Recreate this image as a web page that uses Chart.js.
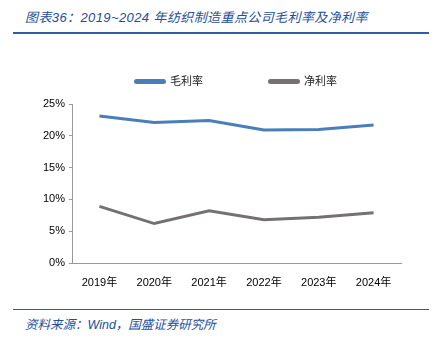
<!DOCTYPE html>
<html>
<head>
<meta charset="utf-8">
<script src="https://cdn.jsdelivr.net/npm/chart.js@4/dist/chart.umd.min.js"></script>
<style>
  body { margin: 0; width: 435px; height: 340px; background: #fff; position: relative; overflow: hidden; }
  #title { position: absolute; left: 25px; top: 7px; font: italic 13px "Liberation Sans", "Noto Sans CJK SC", sans-serif; letter-spacing: 0.4px; color: #1f4e9a; }
  #topLine { position: absolute; left: 13px; top: 32px; width: 416px; height: 2px; background: #2e5ca8; }
  #bottomLine { position: absolute; left: 13px; top: 309px; width: 416px; height: 1px; background: #2e5ca8; }
  #source { position: absolute; left: 25px; top: 314px; font: italic 12.5px "Liberation Sans", "Noto Sans CJK SC", sans-serif; color: #1f4e9a; }
  #wrap { position: absolute; left: 0; top: 40px; width: 435px; height: 260px; }
  .lg { position: absolute; top: 72px; font: 11px "Noto Sans CJK SC", sans-serif; color: #222; line-height: 16px; }
  .lg i { display: inline-block; width: 32px; height: 5px; border-radius: 3px; vertical-align: middle; margin-right: 4px; position: relative; top: -1px; }
</style>
</head>
<body>
<div id="title">图表36：2019~2024 年纺织制造重点公司毛利率及净利率</div>
<div id="topLine"></div>
<div id="wrap"><canvas id="myChart"></canvas></div>
<div id="legend"></div>
<div id="bottomLine"></div>
<div id="source">资料来源：Wind，国盛证券研究所</div>
<script>
var labels = ['2019年', '2020年', '2021年', '2022年', '2023年', '2024年']
var grossMargin = [23.1, 22.1, 22.4, 20.9, 21.0, 21.7]
var netMargin = [8.9, 6.2, 8.2, 6.8, 7.2, 7.9]
var yTicks = [0, 5, 10, 15, 20, 25]

var font = { family: '"Liberation Sans", "Noto Sans CJK SC", sans-serif', size: 11 }

var ctx = document.getElementById('myChart').getContext('2d');
var myChart = new Chart(ctx, {
  type: 'line',
  data: {
    labels: labels,
    datasets: [{
        label: '毛利率',
        data: grossMargin,
        borderColor: '#4a7ebb',
        backgroundColor: '#4a7ebb',
        borderWidth: 3,
        radius: 0,
        tension: 0
    },
    {
        label: '净利率',
        data: netMargin,
        borderColor: '#767171',
        backgroundColor: '#767171',
        borderWidth: 3,
        radius: 0,
        tension: 0
    }]
  },
  options: {
    responsive: true,
    maintainAspectRatio: false,
    animation: false,
    layout: { padding: { left: 0, right: 34, top: 64, bottom: 0 } },
    plugins: {
      tooltip: { enabled: false },
      legend: { display: false }
    },
    scales: {
      x: {
        offset: true,
        grid: { display: false, drawOnChartArea: false, offset: true, drawTicks: true, tickLength: 4, color: '#999' },
        border: { color: '#999' },
        ticks: { font: font, color: '#000', padding: 9 },
        afterFit: function (scale) { scale.height = 37 }
      },
      y: {
        min: 0,
        max: 25,
        afterBuildTicks: function (scale) { scale.ticks = yTicks.map(v => ({ value: v })) },
        grid: { drawOnChartArea: false, tickLength: 3, color: '#999' },
        border: { color: '#999' },
        ticks: { font: font, color: '#000', padding: 4, callback: v => v + '%' },
        afterFit: function (scale) { scale.width = 72 }
      }
    }
  }
})

// legend as html, built from the chart's datasets
var legendLeft = [134, 268]
myChart.data.datasets.forEach(function (ds, i) {
  var item = document.createElement('div')
  item.className = 'lg'
  item.style.left = legendLeft[i] + 'px'
  item.innerHTML = '<i style="background:' + ds.borderColor + '"></i>' + ds.label
  document.getElementById('legend').appendChild(item)
})
</script>
</body>
</html>
